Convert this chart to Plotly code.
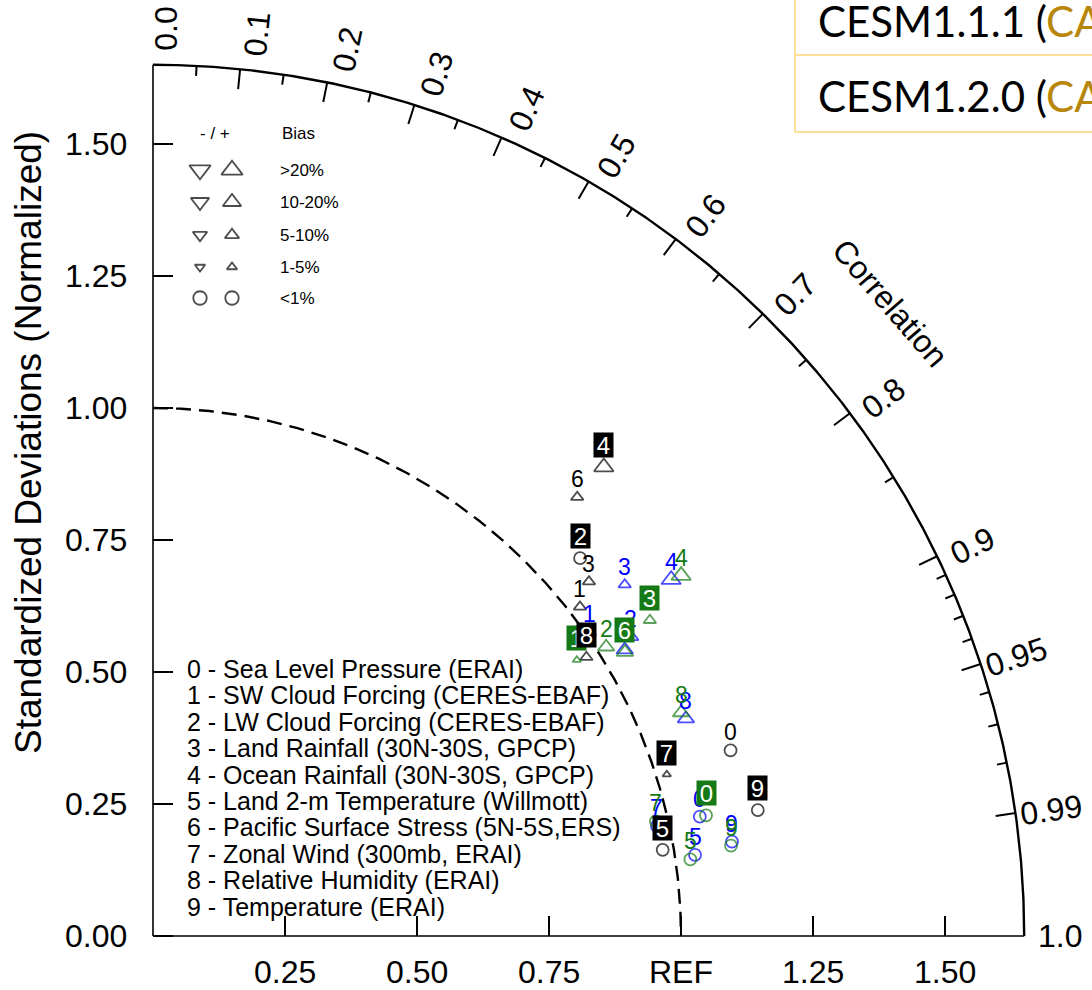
import numpy as np
import plotly.graph_objects as go

# ---------------- data ----------------
variables = ["Sea Level Pressure (ERAI)", "SW Cloud Forcing (CERES-EBAF)",
             "LW Cloud Forcing (CERES-EBAF)", "Land Rainfall (30N-30S, GPCP)",
             "Ocean Rainfall (30N-30S, GPCP)", "Land 2-m Temperature (Willmott)",
             "Pacific Surface Stress (5N-5S,ERS)", "Zonal Wind (300mb, ERAI)",
             "Relative Humidity (ERAI)", "Temperature (ERAI)"]

std_black = [1.149, 1.021, 1.080, 1.064, 1.232, 0.979, 1.156, 1.020, 0.976, 1.170]
cor_black = [0.952, 0.792, 0.749, 0.776, 0.693, 0.986, 0.695, 0.954, 0.841, 0.979]
bias_black = [0.5, 7, 0.5, 7, 25, 0.5, 7, 3, 7, 0.5]
boxed_black = [2, 4, 5, 7, 8, 9]

std_blue = [1.060, 1.008, 1.067, 1.114, 1.191, 1.038, 1.045, 0.977, 1.090, 1.111]
cor_blue = [0.977, 0.821, 0.847, 0.802, 0.824, 0.989, 0.855, 0.977, 0.926, 0.987]
bias_blue = [0.5, 7, 15, 7, 25, 0.5, 15, 0.5, 15, 0.5]
boxed_blue = []

std_green = [1.072, 0.958, 1.018, 1.115, 1.211, 1.028, 1.043, 0.977, 1.086, 1.108]
cor_green = [0.977, 0.838, 0.843, 0.844, 0.826, 0.990, 0.857, 0.975, 0.921, 0.988]
bias_green = [0.5, 3, 15, 7, 25, 0.5, 15, 0.5, 15, 0.5]
boxed_green = [0, 1, 3, 6]

std_ticks = [0.25, 0.50, 0.75, 1.00, 1.25, 1.50]
x_tick_labels = ["0.25", "0.50", "0.75", "REF", "1.25", "1.50"]
y_ticks = [0.0, 0.25, 0.50, 0.75, 1.00, 1.25, 1.50]
y_tick_labels = ["0.00", "0.25", "0.50", "0.75", "1.00", "1.25", "1.50"]
corr_major = [0.0, 0.1, 0.2, 0.3, 0.4, 0.5, 0.6, 0.7, 0.8, 0.9, 0.95, 0.99, 1.0]
corr_major_labels = ["0.0", "0.1", "0.2", "0.3", "0.4", "0.5", "0.6", "0.7", "0.8",
                     "0.9", "0.95", "0.99", "1.0"]
corr_minor = [0.05, 0.15, 0.25, 0.35, 0.45, 0.55, 0.65, 0.75, 0.85,
              0.91, 0.92, 0.93, 0.94, 0.96, 0.97, 0.98]
bias_classes = [">20%", "10-20%", "5-10%", "1-5%", "<1%"]
bias_class_values = [25, 15, 7, 3, 0.5]

# ---------------- geometry / layout helpers ----------------
W, H = 1092, 990
PX0, PY0, S = 153.0, 936.0, 528.0
RMAX = 1.65
FONT = "Liberation Sans, Arial, sans-serif"
GREEN = "#157a15"
BLUE = "#0000ff"


def d(px, py):
    return (px - PX0) / S, (PY0 - py) / S


fig = go.Figure()


def add_line(xs, ys, width=1.5, dash=None, color="black"):
    fig.add_trace(go.Scatter(x=xs, y=ys, mode="lines",
                             line=dict(color=color, width=width, dash=dash),
                             hoverinfo="skip", showlegend=False))


th = np.linspace(0, np.pi / 2, 500)
add_line(RMAX * np.cos(th), RMAX * np.sin(th), width=2.4)
add_line([0, 0], [0, RMAX], width=1.6)
add_line([0, RMAX], [0, 0], width=1.6)
add_line(np.cos(th[::-1]), np.sin(th[::-1]), width=2.4, dash="15px,8px")

# ticks
tk, tkm = 20 / S, 10 / S
xs, ys = [], []
for v in y_ticks:
    xs += [0, tk, None]
    ys += [v, v, None]
for v in std_ticks:
    xs += [v, v, None]
    ys += [0, tk, None]
for c in corr_major[1:-1]:
    t = np.arccos(c)
    xs += [RMAX * np.cos(t), (RMAX - tk) * np.cos(t), None]
    ys += [RMAX * np.sin(t), (RMAX - tk) * np.sin(t), None]
for c in corr_minor:
    t = np.arccos(c)
    xs += [RMAX * np.cos(t), (RMAX - tkm) * np.cos(t), None]
    ys += [RMAX * np.sin(t), (RMAX - tkm) * np.sin(t), None]
add_line(xs, ys, width=2.0)

annotations = []


def ann(x, y, text, size, color="black", xanchor="center", yanchor="middle",
        angle=0, font=FONT, **kw):
    annotations.append(dict(x=x, y=y, xref="x", yref="y", text=text, showarrow=False,
                            xanchor=xanchor, yanchor=yanchor, textangle=angle,
                            font=dict(family=font, size=size, color=color), **kw))


# tick labels
for v, lab in zip(std_ticks, x_tick_labels):
    ann(v, d(0, 972)[1], lab, 32)
for v, lab in zip(y_ticks, y_tick_labels):
    ann(d(129, 0)[0], v, lab, 32, xanchor="right")

rl = RMAX + 36 / S
for c, lab in zip(corr_major, corr_major_labels):
    t = np.arccos(c)
    off = 13 * np.sin(t) / S
    x = rl * np.cos(t) + off * np.sin(t)
    y = rl * np.sin(t) - off * np.cos(t)
    ann(x, y, lab, 32, angle=-np.degrees(t))

cx, cy = d(890, 303)
ann(cx, cy, "Correlation", 32, angle=49)
tx, ty = d(28, 443)
ann(tx, ty, "Standardized Deviations (Normalized)", 37, angle=-90)

# variable legend
for i, v in enumerate(variables):
    x, y = d(185, 669 + 26.4 * i)
    ann(x, y, f"{i} - {v}", 25, xanchor="left")

# bias legend
x, y = d(215, 133)
ann(x, y, "- / +", 17)
x, y = d(280, 133)
ann(x, y, "Bias", 17, xanchor="left")


def sym(b):
    a = abs(b)
    if a < 1:
        return "circle-open", 12
    base = "triangle-up-open" if b > 0 else "triangle-down-open"
    if a < 5:
        return base, 7.5
    if a < 10:
        return base, 11
    if a < 20:
        return base, 14.5
    return base, 17


leg_y = [170, 202, 235, 267, 298]
lx, ly, lsym, lsz = [], [], [], []
for lab, bv, py in zip(bias_classes, bias_class_values, leg_y):
    for px, sign in ((200, -1), (232, 1)):
        s_, z_ = sym(sign * bv)
        x, y = d(px, py)
        lx.append(x); ly.append(y); lsym.append(s_); lsz.append(z_ + 1.5)
    x, y = d(278, py)
    ann(x, y, lab.replace("<", "&lt;").replace(">", "&gt;"), 17, xanchor="left")
fig.add_trace(go.Scatter(x=lx, y=ly, mode="markers",
                         marker=dict(symbol=lsym, size=lsz, color="black",
                                     line=dict(width=1.8, color="black")),
                         hoverinfo="skip", showlegend=False))

# models
models = [("black", std_black, cor_black, bias_black, boxed_black),
          (BLUE, std_blue, cor_blue, bias_blue, boxed_blue),
          (GREEN, std_green, cor_green, bias_green, boxed_green)]
for color, sd, cr, bs, _ in models:
    sd = np.array(sd); cr = np.array(cr)
    x = sd * cr
    y = sd * np.sqrt(1 - cr ** 2)
    syms = [sym(b)[0] for b in bs]
    sizes = [sym(b)[1] for b in bs]
    fig.add_trace(go.Scatter(x=x, y=y, mode="markers",
                             marker=dict(symbol=syms, size=sizes, color=color,
                                         line=dict(width=1.8, color=color)),
                             hoverinfo="skip", showlegend=False))

for color, sd, cr, bs, boxed in [models[1], models[2], models[0]]:
    for i in range(len(sd)):
        x = sd[i] * cr[i]
        y = sd[i] * np.sqrt(1 - cr[i] ** 2)
        if i in boxed:
            ann(x, y, str(i), 24, color="white", yshift=22, bgcolor=color,
                width=19, height=24, borderpad=0)
        else:
            ann(x, y, str(i), 23, color=color, yshift=18)

# cropped slide table at top right
shapes = []
def pline(x0, y0, x1, y1):
    shapes.append(dict(type="line", xref="paper", yref="paper",
                       x0=x0 / W, x1=x1 / W, y0=1 - y0 / H, y1=1 - y1 / H,
                       line=dict(color="#fbe19a", width=2)))
pline(795, 0, 795, 132)
pline(795, 55, W + 5, 55)
pline(795, 132, W + 5, 132)
for row, yy in (("CESM1.1.1 (", 21), ("CESM1.2.0 (", 96)):
    annotations.append(dict(x=816 / W, y=1 - yy / H, xref="paper", yref="paper",
                            xanchor="left", yanchor="middle", showarrow=False,
                            text=row + "<span style='color:#b8860b'>CA</span>",
                            font=dict(family="Lato, sans-serif", size=42, color="black")))

xr = [-PX0 / S, (W - PX0) / S]
yr = [-(H - PY0) / S, PY0 / S]
fig.update_layout(width=W, height=H, margin=dict(l=0, r=0, t=0, b=0),
                  paper_bgcolor="white", plot_bgcolor="white",
                  xaxis=dict(range=xr, visible=False, fixedrange=True),
                  yaxis=dict(range=yr, visible=False, fixedrange=True),
                  annotations=annotations, shapes=shapes, showlegend=False)
fig.write_html("out.html", config={"displayModeBar": False},
               post_script="document.body.style.margin='0';")
